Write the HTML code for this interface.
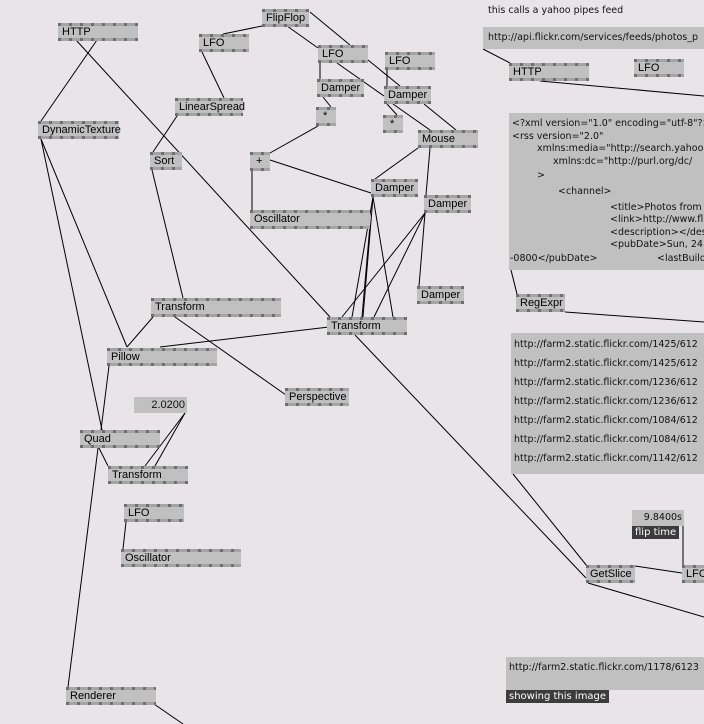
<!DOCTYPE html>
<html><head><meta charset="utf-8"><style>
html,body{margin:0;padding:0;}
body{width:704px;height:724px;overflow:hidden;background:#e8e4e8;position:relative;font-family:"Liberation Sans",sans-serif;}
svg{position:absolute;left:0;top:0;}
.n{position:absolute;background:#c0c0c0;box-sizing:border-box;font-size:11px;color:#000;line-height:1;}
.n::before,.n::after{content:"";position:absolute;left:0;right:0;height:3px;
background:repeating-linear-gradient(90deg,#6e6e6e 0 3px,#a4a4a4 3px 11px);}
.n::before{top:0}.n::after{bottom:0}
.n span{position:absolute;left:4px;top:4px;white-space:nowrap;}
.box{position:absolute;background:#c0c0c0;font-family:"DejaVu Sans",sans-serif;font-size:9.5px;color:#111;white-space:pre;overflow:hidden;}
.box i{font-style:normal;position:absolute;line-height:12px;}
.lbl{position:absolute;background:#3c3c3c;color:#fff;font-family:"DejaVu Sans",sans-serif;font-size:10px;padding:1px 3px;}
</style></head><body>
<svg width="704" height="724" stroke="#000" stroke-width="1" fill="none">
<line x1="97" y1="40" x2="41" y2="121"/>
<line x1="76" y1="40" x2="330" y2="317"/>
<line x1="262" y1="26" x2="223" y2="34"/>
<line x1="287" y1="26" x2="318" y2="48"/>
<line x1="310" y1="12" x2="350" y2="45"/>
<line x1="202" y1="52" x2="224" y2="98"/>
<line x1="177" y1="116" x2="153" y2="152"/>
<line x1="152" y1="170" x2="183" y2="298"/>
<line x1="320" y1="63" x2="320" y2="79"/>
<line x1="337" y1="63" x2="384" y2="96"/>
<line x1="368" y1="60" x2="400" y2="86"/>
<line x1="387" y1="70" x2="387" y2="86"/>
<line x1="323" y1="97" x2="331" y2="107"/>
<line x1="387" y1="104" x2="397" y2="115"/>
<line x1="393" y1="104" x2="430" y2="130"/>
<line x1="424" y1="104" x2="456" y2="130"/>
<line x1="318" y1="126" x2="270" y2="153"/>
<line x1="252" y1="171" x2="252" y2="210"/>
<line x1="270" y1="160" x2="371" y2="193"/>
<line x1="418" y1="148" x2="375" y2="179"/>
<line x1="430" y1="148" x2="426" y2="195"/>
<line x1="425" y1="213" x2="419" y2="286"/>
<line x1="373" y1="197" x2="352" y2="317"/>
<line x1="373" y1="197" x2="363" y2="317"/>
<line x1="373" y1="197" x2="393" y2="317"/>
<line x1="370" y1="225" x2="362" y2="317"/>
<line x1="425" y1="213" x2="342" y2="317"/>
<line x1="425" y1="213" x2="374" y2="317"/>
<line x1="41" y1="139" x2="102" y2="430"/>
<line x1="41" y1="139" x2="127" y2="347"/>
<line x1="99" y1="448" x2="108" y2="466"/>
<line x1="109" y1="366" x2="101" y2="430"/>
<line x1="153" y1="317" x2="127" y2="347"/>
<line x1="175" y1="317" x2="286" y2="395"/>
<line x1="329" y1="327" x2="160" y2="347"/>
<line x1="355" y1="335" x2="586" y2="578"/>
<line x1="513" y1="474" x2="587" y2="566"/>
<line x1="185" y1="413" x2="145" y2="466"/>
<line x1="185" y1="413" x2="155" y2="466"/>
<line x1="98" y1="448" x2="68" y2="687"/>
<line x1="126" y1="522" x2="123" y2="549"/>
<line x1="154" y1="704" x2="183" y2="724"/>
<line x1="483" y1="49" x2="510" y2="63"/>
<line x1="540" y1="81" x2="704" y2="96"/>
<line x1="511" y1="270" x2="517" y2="294"/>
<line x1="565" y1="312" x2="704" y2="322"/>
<line x1="683" y1="525" x2="683" y2="565"/>
<line x1="635" y1="566" x2="682" y2="573"/>
<line x1="588" y1="583" x2="704" y2="617"/>
</svg>

<div class="n" style="left:58px;top:23px;width:80px;height:18px"><span>HTTP</span></div>
<div class="n" style="left:262px;top:9px;width:47px;height:18px"><span>FlipFlop</span></div>
<div class="n" style="left:199px;top:34px;width:50px;height:18px"><span>LFO</span></div>
<div class="n" style="left:318px;top:45px;width:50px;height:18px"><span>LFO</span></div>
<div class="n" style="left:385px;top:52px;width:50px;height:18px"><span>LFO</span></div>
<div class="n" style="left:317px;top:79px;width:47px;height:18px"><span>Damper</span></div>
<div class="n" style="left:384px;top:86px;width:47px;height:18px"><span>Damper</span></div>
<div class="n" style="left:316px;top:107px;width:20px;height:19px"><span style="left:7px">*</span></div>
<div class="n" style="left:383px;top:115px;width:20px;height:18px"><span style="left:7px">*</span></div>
<div class="n" style="left:175px;top:98px;width:68px;height:18px"><span>LinearSpread</span></div>
<div class="n" style="left:38px;top:121px;width:81px;height:18px"><span>DynamicTexture</span></div>
<div class="n" style="left:150px;top:152px;width:32px;height:18px"><span>Sort</span></div>
<div class="n" style="left:250px;top:152px;width:20px;height:19px"><span style="left:6px">+</span></div>
<div class="n" style="left:418px;top:130px;width:60px;height:18px"><span>Mouse</span></div>
<div class="n" style="left:371px;top:179px;width:47px;height:18px"><span>Damper</span></div>
<div class="n" style="left:424px;top:195px;width:47px;height:18px"><span>Damper</span></div>
<div class="n" style="left:250px;top:210px;width:120px;height:19px"><span>Oscillator</span></div>
<div class="n" style="left:417px;top:286px;width:47px;height:18px"><span>Damper</span></div>
<div class="n" style="left:151px;top:298px;width:130px;height:19px"><span>Transform</span></div>
<div class="n" style="left:327px;top:317px;width:80px;height:18px"><span>Transform</span></div>
<div class="n" style="left:107px;top:348px;width:110px;height:18px"><span>Pillow</span></div>
<div class="n" style="left:285px;top:388px;width:64px;height:18px"><span>Perspective</span></div>
<div class="box" style="left:134px;top:397px;width:53px;height:16px;font-family:'Liberation Sans',sans-serif;font-size:11px;"><span style="position:absolute;right:2px;top:2px">2.0200</span></div>
<div class="n" style="left:80px;top:430px;width:80px;height:18px"><span>Quad</span></div>
<div class="n" style="left:108px;top:466px;width:80px;height:18px"><span>Transform</span></div>
<div class="n" style="left:124px;top:504px;width:60px;height:18px"><span>LFO</span></div>
<div class="n" style="left:121px;top:549px;width:120px;height:18px"><span>Oscillator</span></div>
<div class="n" style="left:66px;top:687px;width:90px;height:18px"><span>Renderer</span></div>

<div style="position:absolute;left:488px;top:5px;font-family:'DejaVu Sans',sans-serif;font-size:9.5px;color:#111">this calls a yahoo pipes feed</div>
<div class="box" style="left:483px;top:27px;width:221px;height:22px;"><span style="position:absolute;left:5px;top:5px">http://api.flickr.com/services/feeds/photos_p</span></div>
<div class="n" style="left:509px;top:63px;width:80px;height:18px"><span>HTTP</span></div>
<div class="n" style="left:634px;top:59px;width:50px;height:18px"><span>LFO</span></div>
<div class="box" style="left:509px;top:113px;width:195px;height:157px;">
<i style="left:3px;top:5px">&lt;?xml version="1.0" encoding="utf-8"?&gt;</i>
<i style="left:3px;top:18px">&lt;rss version="2.0"</i>
<i style="left:28px;top:30px">xmlns:media="http://search.yahoo.</i>
<i style="left:44px;top:43px">xmlns:dc="http://purl.org/dc/</i>
<i style="left:28px;top:57px">&gt;</i>
<i style="left:49px;top:73px">&lt;channel&gt;</i>
<i style="left:101px;top:89px">&lt;title&gt;Photos from e</i>
<i style="left:101px;top:101px">&lt;link&gt;http://www.fli</i>
<i style="left:101px;top:114px">&lt;description&gt;&lt;/des</i>
<i style="left:101px;top:126px">&lt;pubDate&gt;Sun, 24 Ju</i>
<i style="left:1px;top:140px">-0800&lt;/pubDate&gt;</i>
<i style="left:148px;top:140px">&lt;lastBuild</i>
</div>
<div class="n" style="left:516px;top:294px;width:49px;height:18px"><span>RegExpr</span></div>
<div class="box" style="left:511px;top:333px;width:193px;height:141px;line-height:19px;"><div style="position:absolute;left:3px;top:2px">http://farm2.static.flickr.com/1425/612
http://farm2.static.flickr.com/1425/612
http://farm2.static.flickr.com/1236/612
http://farm2.static.flickr.com/1236/612
http://farm2.static.flickr.com/1084/612
http://farm2.static.flickr.com/1084/612
http://farm2.static.flickr.com/1142/612</div></div>
<div class="box" style="left:632px;top:510px;width:52px;height:16px;"><span style="position:absolute;right:2px;top:2px">9.8400s</span></div>
<div class="lbl" style="left:632px;top:526px;">flip time</div>
<div class="n" style="left:586px;top:565px;width:49px;height:18px;"><span>GetSlice</span></div>
<div class="n" style="left:682px;top:565px;width:30px;height:18px;"><span>LFO</span></div>
<div class="box" style="left:506px;top:657px;width:198px;height:33px;"><span style="position:absolute;left:3px;top:5px">http://farm2.static.flickr.com/1178/6123</span></div>
<div class="lbl" style="left:506px;top:690px;">showing this image</div>
</body></html>
